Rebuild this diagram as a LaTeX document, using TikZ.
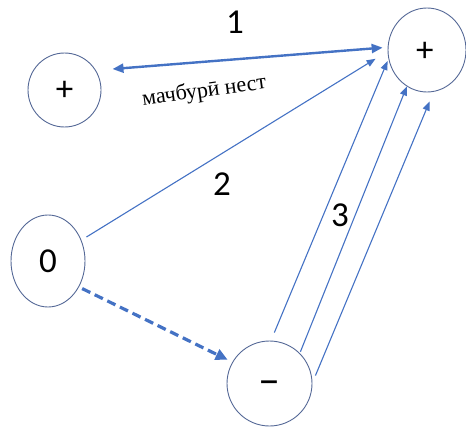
\documentclass[tikz,border=0pt]{standalone}
\usepackage{fontspec}
\setmainfont{Carlito}
\newfontfamily\cyrserif{Liberation Serif}
\usetikzlibrary{shapes.geometric,arrows.meta}
\definecolor{lineblue}{RGB}{68,114,196}
\definecolor{ringcol}{RGB}{84,104,150}
\begin{document}
\begin{tikzpicture}[x=1pt,y=-1pt,
  charge/.style={ellipse, draw=ringcol, line width=0.9pt, inner sep=0pt, font=\fontsize{35}{40}\selectfont},
  thinarrow/.style={draw=lineblue, line width=1.1pt, -{Triangle[length=9pt,width=7pt]}},
  thickarrow/.style={draw=lineblue, line width=2.4pt, {Triangle[length=11pt,width=9pt]}-{Triangle[length=11pt,width=9pt]}},
  dasharrow/.style={draw=lineblue, line width=3.2pt, dash pattern=on 9pt off 5pt, -{Triangle[length=12pt,width=11pt]}},
  lbl/.style={font=\fontsize{35}{40}\selectfont}]
\useasboundingbox (0,0) rectangle (466,428);
\node[charge, minimum width=73pt, minimum height=74pt] (TL) at (64.5,90) {\smash{\raisebox{-0.31em}{+}}};
\node[charge, minimum width=78pt, minimum height=84pt] (TR) at (427,50) {\smash{\raisebox{-0.33em}{+\kern0.12em}}};
\node[charge, minimum width=74pt, minimum height=92pt] (Z) at (48,261) {0};
\node[charge, minimum width=85pt, minimum height=85pt] (M) at (269.5,383.5) {\smash{\fontsize{44}{48}\selectfont\raisebox{-0.25em}{–}}};
\draw[thickarrow, shorten <=16.6pt, shorten >=5pt] (TL.32.5) -- (TR.176.5);
\draw[thinarrow, shorten <=5.9pt, shorten >=14.1pt] (Z.32.4) -- (TR.182.4);
\draw[thinarrow, shorten <=8.7pt, shorten >=2.3pt] (M.88.5) -- (TR.193.1);
\draw[thinarrow, shorten <=1.5pt] (M.45.2) -- (TR.241.7);
\draw[thinarrow, shorten <=7.8pt, shorten >=10.5pt] (M.1.8) -- (TR.279.7);
\draw[dasharrow, shorten <=3.5pt, shorten >=5.2pt] (Z.320.5) -- (M.150.1);
\node[lbl] (n1) at (235,22) {1};
\node[lbl] (n2) at (222,184) {2};
\node[lbl] (n3) at (340,215) {3};
\node[font=\cyrserif\fontsize{22}{26}\selectfont, rotate=8, anchor=base] (note) at (205,97) {мачбурӣ нест};
\end{tikzpicture}
\end{document}
